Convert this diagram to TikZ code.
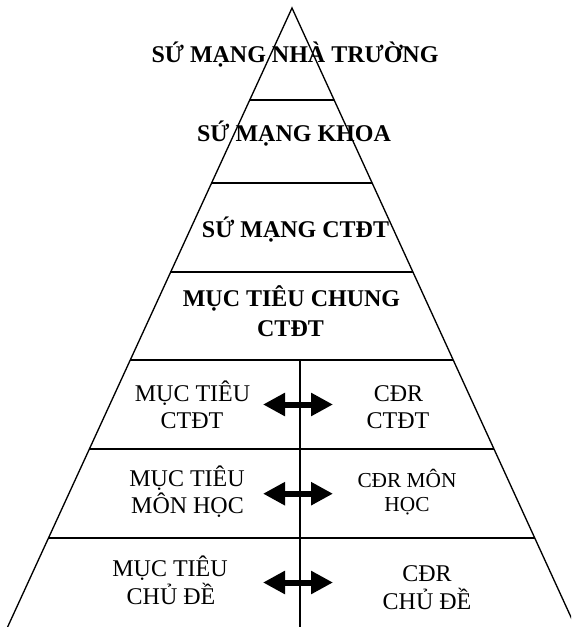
\documentclass[tikz,border=0pt]{standalone}
\usepackage{fontspec}
\setmainfont{Liberation Serif}
\usetikzlibrary{arrows.meta,calc}
\begin{document}
\begin{tikzpicture}[x=0.75pt,y=-0.75pt,
  lbl/.style={inner sep=0pt,anchor=base,font=\fontsize{18}{21}\selectfont},
  blbl/.style={lbl,font=\fontsize{18}{21}\selectfont\bfseries},
  slbl/.style={lbl,font=\fontsize{16}{19}\selectfont},
  side/.style={line width=1pt},
  level/.style={line width=1.5pt},
  dblarrow/.style={line width=4.5pt,{Triangle[length=16.5pt,width=16.5pt]}-{Triangle[length=16.5pt,width=16.5pt]}}]
\fill[white] (0,0) rectangle (571,627);
\useasboundingbox (0,0) rectangle (571,627);
\clip (0,0) rectangle (571,627);
% pyramid
\coordinate (apex) at (292,8);
\coordinate (bl) at (7.6,627);
\coordinate (br) at (575.5,627);
\draw[side] (bl) -- (apex) -- (br);
% levels
\foreach \yy in {100,183,272.5,360,449,538}{
  \draw[level] ($(apex)!{(\yy-8)/619}!(bl)$) -- ($(apex)!{(\yy-8)/619}!(br)$);
}
% divider
\coordinate (vtop) at (300,360);
\coordinate (vbot) at (300,627);
\draw[level] (vtop) -- (vbot);
% texts
\node[blbl] (t1) at (295,63) {SỨ MẠNG NHÀ TRƯỜNG};
\node[blbl] (t2) at (294,142) {SỨ MẠNG KHOA};
\node[blbl] (t3) at (295.5,237) {SỨ MẠNG CTĐT};
\node[blbl] (t4a) at (291.5,306.7) {MỤC TIÊU CHUNG};
\node[blbl] (t4b) at (290.5,336.7) {CTĐT};
\node[lbl] (l1a) at (192.5,401.7) {MỤC TIÊU};
\node[lbl] (l1b) at (192,428) {CTĐT};
\node[lbl] (r1a) at (398.5,401.7) {CĐR};
\node[lbl] (r1b) at (398,428) {CTĐT};
\node[lbl] (l2a) at (187,486) {MỤC TIÊU};
\node[lbl] (l2b) at (187.5,513) {MÔN HỌC};
\node[slbl] (r2a) at (407,487) {CĐR MÔN};
\node[slbl] (r2b) at (407,511.7) {HỌC};
\node[lbl] (l3a) at (170,576.7) {MỤC TIÊU};
\node[lbl] (l3b) at (171,604) {CHỦ ĐỀ};
\node[lbl] (r3a) at (427,581.7) {CĐR};
\node[lbl] (r3b) at (427,609.3) {CHỦ ĐỀ};
% arrows
\coordinate (a1l) at (263,404.5); \coordinate (a1r) at (333,404.5);
\coordinate (a2l) at (263,493.7); \coordinate (a2r) at (333,493.7);
\coordinate (a3l) at (263,582.5); \coordinate (a3r) at (333,582.5);
\draw[dblarrow] (a1l) -- (a1r);
\draw[dblarrow] (a2l) -- (a2r);
\draw[dblarrow] (a3l) -- (a3r);
\end{tikzpicture}
\end{document}
